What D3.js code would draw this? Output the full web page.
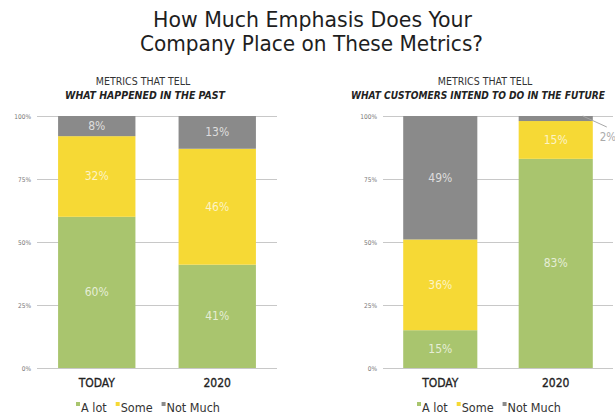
<!DOCTYPE html>
<html>
<head>
<meta charset="utf-8">
<script src="https://cdn.jsdelivr.net/npm/d3@7"></script>
<style>
  html, body { margin: 0; padding: 0; background: #fff; }
  svg { display: block; }
  text { font-family: "DejaVu Sans Condensed", "DejaVu Sans", sans-serif; }
</style>
</head>
<body>
<svg id="chart" width="615" height="419"></svg>
<script>
// ---- data ----
const categories = ["TODAY", "2020"];
const seriesNames = ["A lot", "Some", "Not Much"];
const pastALot = [60, 41];
const pastSome = [32, 46];
const pastNotMuch = [8, 13];
const futureALot = [15, 83];
const futureSome = [36, 15];
const futureNotMuch = [49, 2];
const yTicks = [0, 25, 50, 75, 100];
const titleLines = ["How Much Emphasis Does Your", "Company Place on These Metrics?"];
const panelTitles = [
  ["METRICS THAT TELL", "WHAT HAPPENED IN THE PAST"],
  ["METRICS THAT TELL", "WHAT CUSTOMERS INTEND TO DO IN THE FUTURE"]
];

const colors = { "A lot": "#a9c56e", "Some": "#f6d935", "Not Much": "#8a8a8a" };

const svg = d3.select("#chart");

// title
const titleLayout = [{ x: 153, y: 27, w: 319 }, { x: 140, y: 51, w: 343 }];
svg.append("g").selectAll("text").data(titleLines).join("text")
  .attr("x", (d, i) => titleLayout[i].x).attr("y", (d, i) => titleLayout[i].y)
  .attr("font-size", 21)
  .attr("textLength", (d, i) => titleLayout[i].w).attr("lengthAdjust", "spacingAndGlyphs")
  .attr("fill", "#1e1e1e")
  .text(d => d);

const y = d3.scaleLinear().domain([0, 100]).range([368, 116]);

const panels = [
  { data: [pastALot, pastSome, pastNotMuch], x0: 37, x1: 277, titleX: 143, sub: [65, 160], legendX: 76, labels: panelTitles[0] },
  { data: [futureALot, futureSome, futureNotMuch], x0: 383, x1: 613, titleX: 485, sub: [351, 254], legendX: 417, labels: panelTitles[1] }
];

panels.forEach((p, pi) => {
  const g = svg.append("g");
  const x = d3.scaleBand().domain(categories).range([p.x0, p.x1])
    .paddingInner(0.358).paddingOuter(0.175);

  // panel titles
  g.append("text").attr("x", p.titleX).attr("y", 85)
    .attr("text-anchor", "middle").attr("font-size", 10.5).attr("fill", "#333")
    .text(p.labels[0]);
  g.append("text").attr("x", p.sub[0]).attr("y", 98.5)
    .attr("font-size", 10.5).attr("fill", "#222")
    .attr("font-weight", "bold").attr("font-style", "italic")
    .attr("textLength", p.sub[1]).attr("lengthAdjust", "spacingAndGlyphs")
    .text(p.labels[1]);

  // grid + y ticks
  const yAxis = d3.axisLeft(y).tickValues(yTicks).tickFormat(d => d + "%")
    .tickSize(-(p.x1 - p.x0)).tickPadding(6);
  const ag = g.append("g").attr("transform", `translate(${p.x0},0)`).call(yAxis);
  ag.select(".domain").remove();
  ag.selectAll(".tick line").attr("stroke", "#c8c8c8").attr("stroke-width", 1);
  ag.selectAll(".tick text").attr("font-size", 6.5).attr("fill", "#777")
    .attr("font-family", "'DejaVu Sans', sans-serif");

  // stacked data
  const rows = categories.map((c, i) => {
    const r = { cat: c };
    seriesNames.forEach((s, si) => r[s] = p.data[si][i]);
    return r;
  });
  const stack = d3.stack().keys(seriesNames)(rows);

  const sg = g.selectAll("g.series").data(stack).join("g").attr("class", "series")
    .attr("fill", d => colors[d.key]);
  sg.selectAll("rect").data(d => d).join("rect")
    .attr("x", d => x(d.data.cat))
    .attr("width", x.bandwidth())
    .attr("y", d => y(d[1]))
    .attr("height", d => y(d[0]) - y(d[1]));

  // value labels
  stack.forEach(layer => {
    layer.forEach(d => {
      const v = d[1] - d[0];
      const cx = x(d.data.cat) + x.bandwidth() / 2;
      if (v >= 5) {
        g.append("text").attr("x", cx).attr("y", (y(d[0]) + y(d[1])) / 2 + 4)
          .attr("text-anchor", "middle").attr("font-size", 12)
          .attr("fill", "#fff").attr("fill-opacity", 0.72)
          .text(v + "%");
      } else {
        const xr = x(d.data.cat) + x.bandwidth();
        const yt = y(d[1]);
        g.append("line").attr("x1", xr - 10).attr("y1", yt)
          .attr("x2", xr + 14).attr("y2", yt + 11)
          .attr("stroke", "#a8a8a8").attr("stroke-width", 1);
        g.append("text").attr("x", xr + 7).attr("y", yt + 25)
          .attr("font-size", 11.5).attr("fill", "#aaa")
          .text(v + "%");
      }
    });
  });

  // x labels
  g.selectAll("text.xl").data(categories).join("text").attr("class", "xl")
    .attr("x", d => x(d) + x.bandwidth() / 2).attr("y", 387)
    .attr("text-anchor", "middle").attr("font-size", 12).attr("fill", "#222")
    .attr("stroke", "#222").attr("stroke-width", 0.3)
    .text(d => d);

  // legend
  const lg = g.append("g").attr("transform", `translate(${p.legendX},412)`);
  let lx = 0;
  seriesNames.forEach(s => {
    lg.append("rect").attr("x", lx).attr("y", -10).attr("width", 4).attr("height", 4)
      .attr("fill", colors[s]);
    const t = lg.append("text").attr("x", lx + 5).attr("y", 0)
      .attr("font-size", 12.5).attr("fill", "#333").text(s);
    lx += t.node().getComputedTextLength() + 14;
  });
});
</script>
</body>
</html>
